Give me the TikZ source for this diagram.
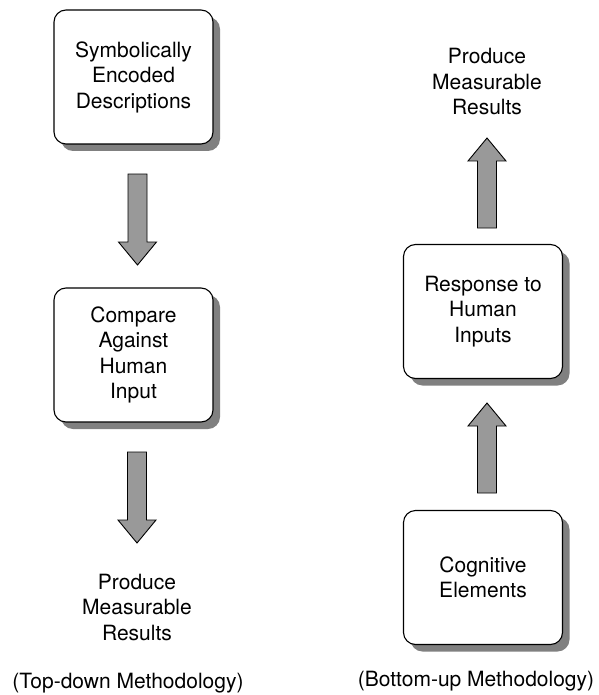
\documentclass[tikz,border=0pt]{standalone}
\usepackage{fontspec}
\setmainfont{TeX Gyre Heros}
\usetikzlibrary{shadows,calc}
\tikzset{
  box/.style={draw=black, line width=1.1pt, rounded corners=12pt, fill=white,
    minimum width=159pt, minimum height=134pt, align=center, inner sep=0pt,
    font=\fontsize{21}{25.5}\selectfont,
    drop shadow={shadow xshift=7pt, shadow yshift=-7pt, fill=black!50, opacity=1}},
  txt/.style={align=center, inner sep=0pt, font=\fontsize{21}{25.5}\selectfont},
  arr/.style={draw=black, line width=0.9pt, fill=black!40, line join=miter}
}
\newcommand\blockarr[3]{% start, head base, tip
  \draw[arr] ($(#1)+(-9.5,0)$) -- ($(#1)+(9.5,0)$) -- ($(#2)+(9.5,0)$) -- ($(#2)+(19,0)$)
    -- (#3) -- ($(#2)+(-19,0)$) -- ($(#2)+(-9.5,0)$) -- cycle;}
\begin{document}
\begin{tikzpicture}[x=1pt,y=-1pt]
\useasboundingbox (0,0) rectangle (598,695);
% left column
\node[box] (A) at (133.5,77) {Symbolically\\Encoded\\Descriptions};
\node[box] (B) at (133.5,355) {Compare\\Against\\Human\\Input};
\node[txt] (L) at (137,607) {Produce\\Measurable\\Results};
\node[txt] (LT) at (128,683) {(Top-down Methodology)};
% right column
\node[txt] (R) at (487,82) {Produce\\Measurable\\Results};
\node[box] (C) at (483,311.5) {Response to\\Human\\Inputs};
\node[box] (D) at (483,577.5) {Cognitive\\Elements};
\node[txt] (RT) at (476,681) {(Bottom-up Methodology)};
% arrow coordinates
\coordinate (a1s) at (137.5,174); \coordinate (a1h) at (137.5,242); \coordinate (a1t) at (137.5,265);
\coordinate (a2s) at (137,452);   \coordinate (a2h) at (137,520);   \coordinate (a2t) at (137,543);
\coordinate (a3s) at (487,228);   \coordinate (a3h) at (487,161);   \coordinate (a3t) at (487,138);
\coordinate (a4s) at (487,493);   \coordinate (a4h) at (487,426);   \coordinate (a4t) at (487,403);
\blockarr{a1s}{a1h}{a1t}
\blockarr{a2s}{a2h}{a2t}
\blockarr{a3s}{a3h}{a3t}
\blockarr{a4s}{a4h}{a4t}
\end{tikzpicture}
\end{document}
